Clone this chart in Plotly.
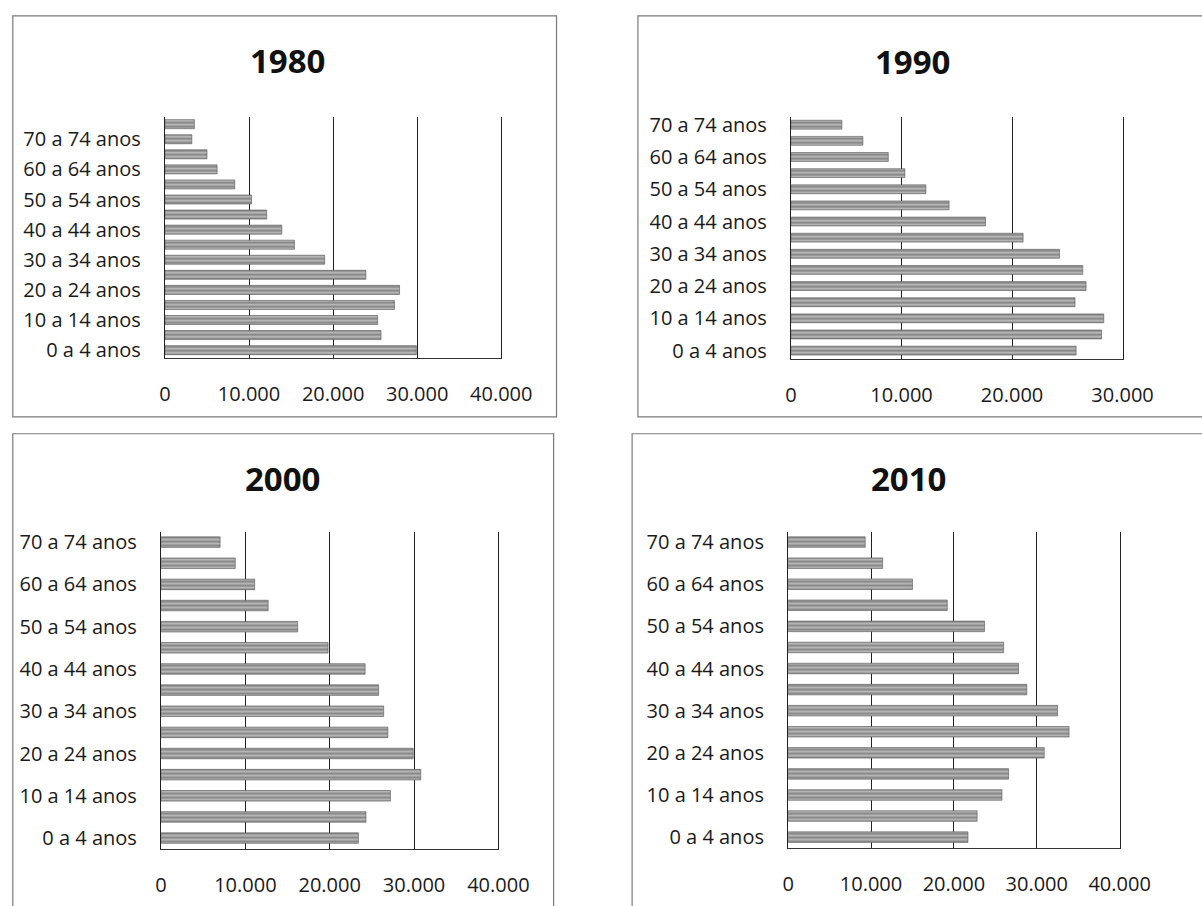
import plotly.graph_objects as go

# ---------------- data ----------------
cats_1980 = ["0 a 4 anos", "5 a 9 anos", "10 a 14 anos", "15 a 19 anos", "20 a 24 anos",
             "25 a 29 anos", "30 a 34 anos", "35 a 39 anos", "40 a 44 anos", "45 a 49 anos",
             "50 a 54 anos", "55 a 59 anos", "60 a 64 anos", "65 a 69 anos", "70 a 74 anos",
             "75 anos e mais"]
cats = cats_1980[:15]
tick_labels = cats[::2]

v1980 = [29900, 25700, 25300, 27300, 27900, 23900, 19000, 15400, 13900, 12100,
         10300, 8300, 6200, 5000, 3200, 3500]
v1990 = [25800, 28100, 28300, 25700, 26700, 26400, 24300, 21000, 17600, 14300,
         12200, 10300, 8800, 6500, 4600]
v2000 = [23400, 24300, 27200, 30800, 29900, 26900, 26400, 25800, 24200, 19800,
         16200, 12700, 11100, 8800, 7000]
v2010 = [21700, 22800, 25800, 26600, 30900, 33900, 32500, 28800, 27800, 26000,
         23700, 19200, 15000, 11400, 9300]

years = ["1980", "1990", "2000", "2010"]
x_max = [40000, 30000, 40000, 40000]
x_ticks = [[0, 10000, 20000, 30000, 40000], [0, 10000, 20000, 30000],
           [0, 10000, 20000, 30000, 40000], [0, 10000, 20000, 30000, 40000]]

# ---------------- layout helpers ----------------
W, H = 1202, 906
def px(x):
    return x / W
def py(y):
    return 1 - y / H

# plot areas in pixels (left, right, top, bottom)
areas = [(164, 511, 112, 356), (810, 1152, 112, 357),
         (160, 508, 532, 853), (807, 1149, 532, 852)]
title_pos = [(290, 55), (935, 56), (285, 478), (931, 478)]
boxes = [(7, 568, 10, 416), (652, 1400, 10, 416), (7, 565, 433, 1100), (646, 1400, 433, 1100)]
bargaps = [0.4, 0.45, 0.5, 0.5]

FONT = "Open Sans"
fig = go.Figure()
series = [(cats_1980, v1980), (cats, v1990), (cats, v2000), (cats, v2010)]

for i, (cs, vals) in enumerate(series):
    n = i + 1
    xa = "x" if n == 1 else f"x{n}"
    ya = "y" if n == 1 else f"y{n}"
    fig.add_trace(go.Bar(
        x=vals, y=cs, orientation="h", xaxis=xa, yaxis=ya,
        width=1 - bargaps[i],
        marker=dict(color="#a8a8a8", line=dict(width=0.6, color="#555555"),
                    pattern=dict(shape="-", fgcolor="#4a4a4a", bgcolor="#b4b4b4",
                                 size=4, solidity=0.4)),
        showlegend=False, hoverinfo="x+y",
    ))
    l, r, t, b = areas[i]
    xkey = "xaxis" if n == 1 else f"xaxis{n}"
    ykey = "yaxis" if n == 1 else f"yaxis{n}"
    fig.layout[xkey] = dict(
        domain=[px(l), px(r)], anchor=ya, range=[0, x_max[i]],
        tickvals=x_ticks[i], tickformat=",d", showgrid=True, gridcolor="#222222",
        gridwidth=1.4, zeroline=False, showline=True, linecolor="#333333", linewidth=1.4,
        ticks="", ticklabelstandoff=18,
        tickfont=dict(family=FONT, size=20, color="#1a1a1a"), fixedrange=True,
    )
    fig.layout[ykey] = dict(
        domain=[py(b), py(t)], anchor=xa, type="category",
        categoryorder="array", categoryarray=cs,
        tickvals=tick_labels, ticktext=tick_labels,
        showline=True, mirror=True, linecolor="#222222", linewidth=1.4,
        showgrid=False, ticks="", ticklabelstandoff=19,
        tickfont=dict(family=FONT, size=20, color="#1a1a1a"), fixedrange=True,
    )
    tx, ty = title_pos[i]
    fig.add_annotation(x=px(tx), y=py(ty), xref="paper", yref="paper",
                       text=f"<b>{years[i]}</b>", showarrow=False,
                       xanchor="center", yanchor="middle",
                       font=dict(family=FONT, size=33, color="#111111"))
    bx0, bx1, by0, by1 = boxes[i]
    fig.add_shape(type="rect", xref="paper", yref="paper",
                  x0=px(bx0), x1=px(bx1), y0=py(by1), y1=py(by0),
                  line=dict(color="#7a7a7a", width=1.2), fillcolor="rgba(0,0,0,0)",
                  layer="below")

fig.update_layout(
    width=W, height=H, margin=dict(l=0, r=0, t=0, b=0),
    paper_bgcolor="white", plot_bgcolor="white",
    separators=",.",
    font=dict(family=FONT),
)

fig.write_html("out.html")
